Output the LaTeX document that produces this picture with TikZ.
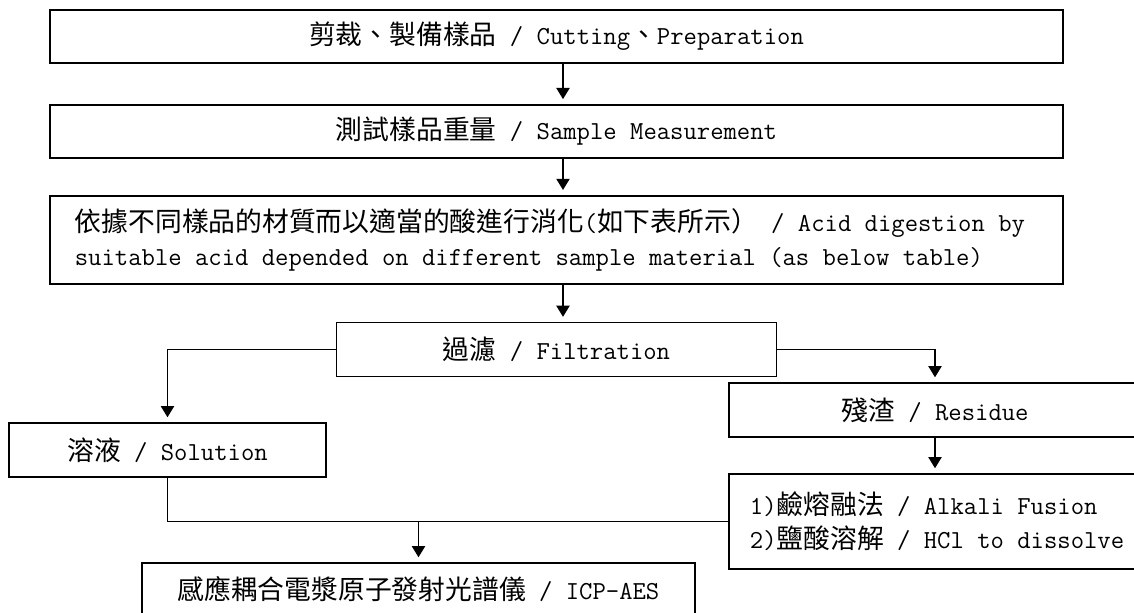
\documentclass[tikz,border=0pt]{standalone}
\usepackage{fontspec}
\newfontfamily\cjk[Scale=1.033]{Noto Sans CJK TC}
\usetikzlibrary{positioning,arrows.meta}

\tikzset{
  box/.style={draw, line width=1.3pt, inner sep=0pt},
  arr/.style={-{Triangle[width=0.33cm,length=0.28cm]}, line width=1.2pt, shorten >=0.12cm},
  link/.style={line width=1pt}
}

\begin{document}
\begin{tikzpicture}[x=0.025cm, y=-0.025cm, font=\ttfamily\fontsize{18.44pt}{24.2pt}\selectfont]
\useasboundingbox (0,0) rectangle (1134,613);
\coordinate (axis) at (563,0);
\node[box, minimum width=25.325cm, minimum height=1.325cm](cut) at (556.5,36.5){{\cjk 剪裁、製備樣品} / Cutting{\cjk 、}Preparation};
\node[box, minimum width=25.325cm, minimum height=1.325cm, below=1cm of cut](weigh){{\cjk 測試樣品重量} / Sample Measurement};
\node[box, minimum width=25.325cm, minimum height=2.2cm, text width=24.075cm, align=left, below=0.9cm of weigh](acid){\spaceskip=0pt\xspaceskip=0pt\relax
  {\cjk 依據不同樣品的材質而以適當的酸進行消化}({\cjk 如下表所示）} / Acid digestion by\\suitable acid depended on different sample material (as below table)};
\node[box, minimum width=11cm, minimum height=1.35cm, below=0.925cm of acid](filt){{\cjk 過濾} / Filtration};
\node[box, minimum width=7.925cm, minimum height=1.35cm](sol) at (167.5,450){{\cjk 溶液} / Solution};
\node[box, minimum width=10.3cm, minimum height=1.35cm](res) at (935,410){{\cjk 殘渣} / Residue};
\node[box, minimum width=10.775cm, minimum height=2.375cm, text width=9.725cm, align=left](alk) at (944.5,521.5){\spaceskip=0pt\xspaceskip=0pt\relax
  1){\cjk 鹼熔融法} / Alkali Fusion\\2){\cjk 鹽酸溶解} / HCl to dissolve};
\node[box, minimum width=13.825cm, minimum height=1.325cm](icp) at (418.5,589.5){{\cjk 感應耦合電漿原子發射光譜儀} / ICP-AES};
% main line
\draw[arr] (cut.south -| axis) -- (weigh.north -| axis);
\draw[arr] (weigh.south -| axis) -- (acid.north -| axis);
\draw[arr] (acid.south -| axis) -- (filt.north -| axis);
% branches
\draw[arr] (filt.west) -| (sol.north);
\draw[arr] (filt.east) -| (res.north);
\draw[arr] (res.south) -- (res.south |- alk.north);
\draw[link] (sol.south) |- (alk.west);
\draw[arr] (icp.north |- alk.west) -- (icp.north);
\end{tikzpicture}
\end{document}
